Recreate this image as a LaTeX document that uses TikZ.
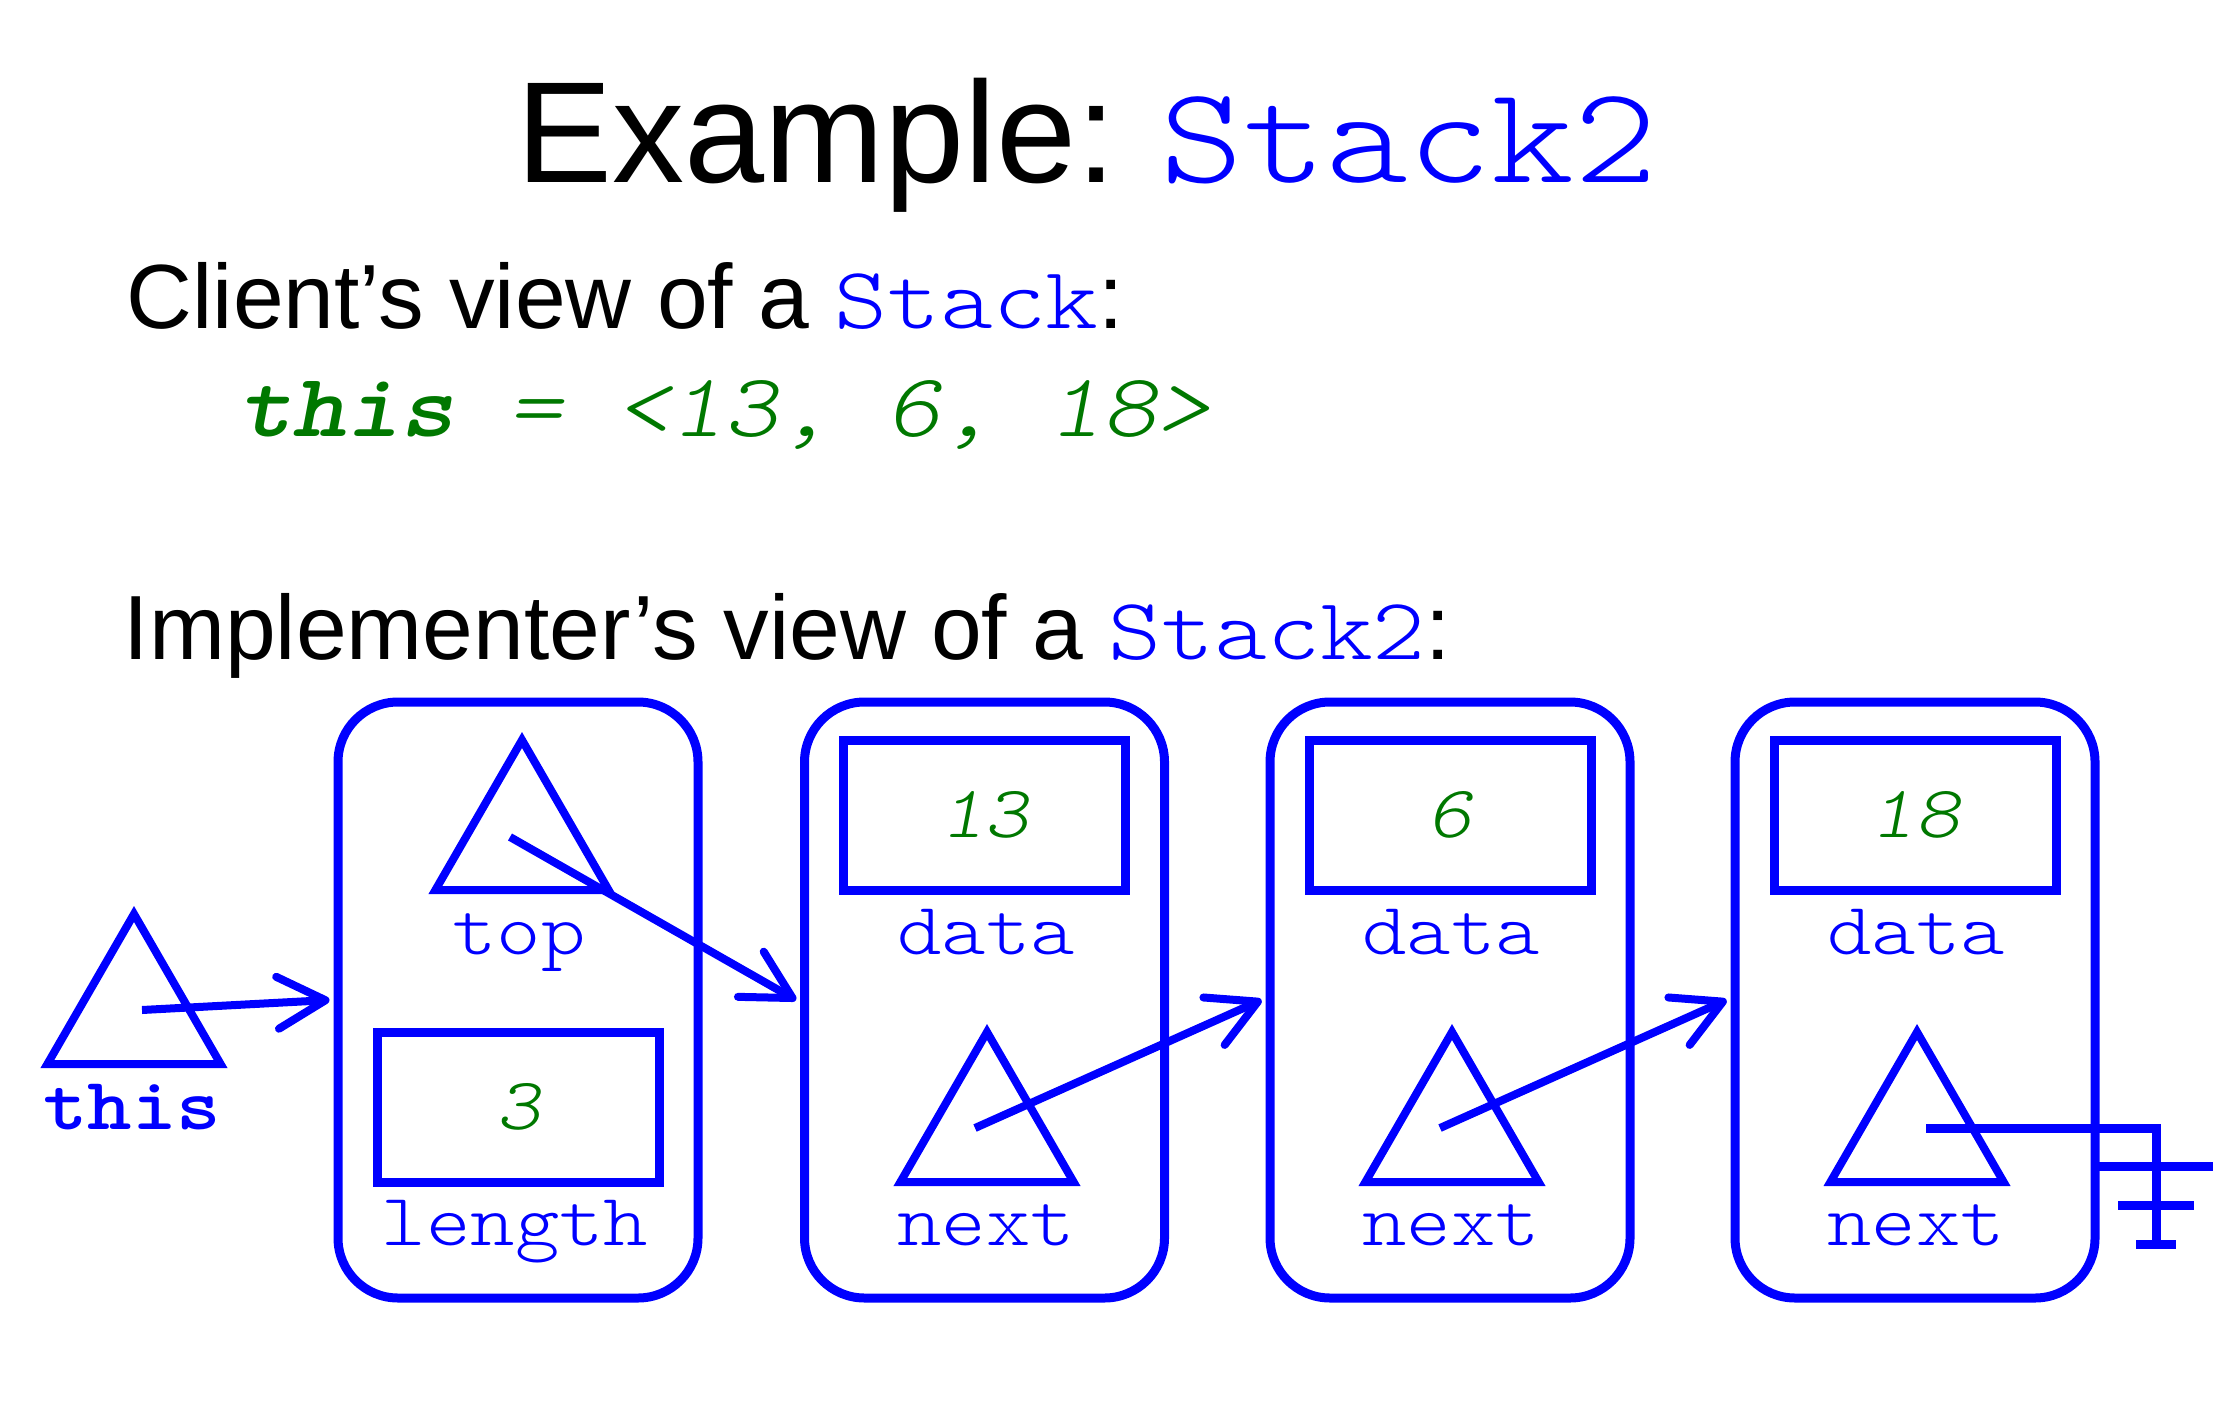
\documentclass[tikz,border=0pt]{standalone}
\usepackage{fontspec}
\setmainfont{Liberation Sans}
\newfontfamily\monofam[Extension=.otf, UprightFont=lmmonolt10-regular, ItalicFont=lmmonolt10-oblique, BoldFont=lmmonolt10-bold, BoldItalicFont=lmmonolt10-boldoblique, FakeStretch=1.143]{lmmonolt10-regular}
\usetikzlibrary{arrows.meta,shapes.geometric}
\definecolor{codegreen}{RGB}{0,120,0}
\begin{document}
\begin{tikzpicture}[x=0.25pt,y=-0.25pt,
  box/.style={draw=blue, line width=2.25pt, rounded corners=15pt, minimum width=90pt, minimum height=149pt, inner sep=0pt},
  field/.style={draw=blue, line width=2.25pt, minimum width=70.5pt, minimum height=37.5pt, inner sep=0pt},
  ptr/.style={draw=blue, line width=2pt, regular polygon, regular polygon sides=3, minimum size=50pt, inner sep=0pt},
  lbl/.style={font=\monofam\fontsize{18.5}{20}\selectfont, text=blue, anchor=base, inner sep=0pt},
  num/.style={font=\monofam\itshape\fontsize{18.5}{20}\selectfont, text=codegreen, inner sep=0pt},
  link/.style={draw=blue, line width=2pt, -{Straight Barb[length=12pt,width=13pt,round]}},
  txt/.style={anchor=base west, inner sep=0pt}]
\useasboundingbox (0,0) rectangle (2234,1422);

% texts
\node[txt] (title) at (516,183) {\fontsize{36}{40}\selectfont Example:\hspace{0.3em}{\monofam\color{blue}\fontsize{34.5}{40}\selectfont Stack2}};
\node[txt] (client) at (126,329) {\fontsize{22.8}{26}\selectfont Client’s view of a {\monofam\color{blue}\fontsize{22}{26}\selectfont Stack}:};
\node[txt, text=codegreen] (abs) at (238,437) {\monofam\fontsize{22.5}{26}\selectfont\textbf{\textit{this}}\textit{ = <13, 6, 18>}};
\node[txt] (impl) at (123,659) {\fontsize{22.8}{26}\selectfont Implementer’s view of a {\monofam\color{blue}\fontsize{22}{26}\selectfont Stack2}:};

% boxes
\node[box] (b1) at (518,1000) {};
\node[box] (b2) at (984.5,1000) {};
\node[box] (b3) at (1450,1000) {};
\node[box] (b4) at (1915,1000) {};

% this pointer
\node[ptr] (t0) at (134,1014) {};
\node[lbl, font=\monofam\bfseries\fontsize{18.5}{20}\selectfont] (thislbl) at (132,1129) {this};

% box 1
\node[ptr] (t1) at (522,840) {};
\node[lbl] (toplbl) at (519,954) {top};
\node[field] (f1) at (518.5,1107) {};
\node[num] (n1) at (f1.center) {3};
\node[lbl] (lenlbl) at (515,1245) {length};

% box 2
\node[field] (f2) at (984.5,815) {};
\node[num] (n2) at (f2.center) {13};
\node[lbl] (d2) at (986,954) {data};
\node[ptr] (t2) at (987,1132) {};
\node[lbl] (x2) at (986,1245) {next};

% box 3
\node[field] (f3) at (1450,815) {};
\node[num] (n3) at (f3.center) {6};
\node[lbl] (d3) at (1451,954) {data};
\node[ptr] (t3) at (1452,1132) {};
\node[lbl] (x3) at (1451,1245) {next};

% box 4
\node[field] (f4) at (1915,815) {};
\node[num] (n4) at (f4.center) {18};
\node[lbl] (d4) at (1916,954) {data};
\node[ptr] (t4) at (1917,1132) {};
\node[lbl] (x4) at (1916,1245) {next};

% links
\coordinate (s0) at ([shift={(8,-4)}]t0.center);
\coordinate (s1) at ([shift={(-12,-3)}]t1.center);
\coordinate (s2) at ([shift={(-12,-4)}]t2.center);
\coordinate (s3) at ([shift={(-12,-4)}]t3.center);
\coordinate (s4) at ([shift={(9,-4)}]t4.center);
\draw[link] (s0) -- ([xshift=-1pt]b1.west);
\draw[link] (s1) -- ([xshift=-1pt]b2.west);
\draw[link] (s2) -- ([xshift=-1pt]b3.west);
\draw[link] (s3) -- ([xshift=-1pt]b4.west);

% null
\coordinate (g) at (2156,1128);
\draw[blue, line width=2.25pt] (s4) -- (g) -- ([yshift=-29pt]g);
\draw[blue, line width=2.25pt] ([shift={(-57,38)}]g) -- ([shift={(57,38)}]g);
\draw[blue, line width=2.25pt] ([shift={(-38,77)}]g) -- ([shift={(38,77)}]g);
\draw[blue, line width=2.25pt] ([shift={(-20,116)}]g) -- ([shift={(20,116)}]g);
\end{tikzpicture}
\end{document}
